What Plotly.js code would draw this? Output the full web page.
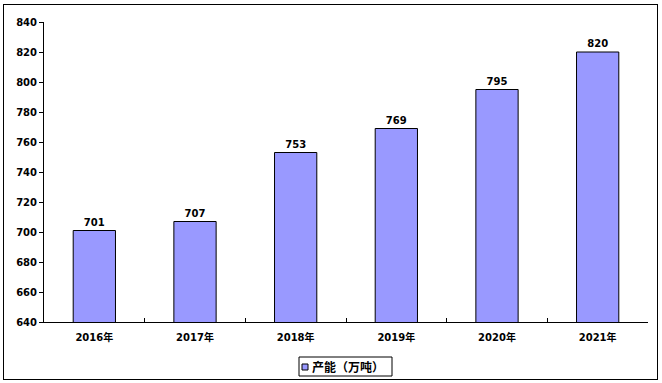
<!DOCTYPE html>
<html>
<head>
<meta charset="utf-8">
<script src="https://cdn.plot.ly/plotly-3.0.1.min.js"></script>
<style>
  html, body { margin: 0; padding: 0; background: #fff; }
  #wrap { position: relative; width: 662px; height: 383px; }
  #chart { position: absolute; left: 0; top: 0; width: 662px; height: 383px; }
  #frame { position: absolute; left: 3px; top: 4px; width: 653px; height: 374px; border: 1px solid #000; pointer-events: none; }
</style>
</head>
<body>
<div id="wrap">
  <div id="chart"></div>
  <div id="frame"></div>
</div>
<script>
const categories = ["2016年", "2017年", "2018年", "2019年", "2020年", "2021年"];
const capacity = [701, 707, 753, 769, 795, 820];
const seriesName = "产能（万吨）";

const fontFam = '"DejaVu Sans", "Noto Sans CJK SC", sans-serif';
const barColor = "#9999FF";

const trace = {
  type: "bar",
  x: categories,
  y: capacity,
  name: seriesName,
  text: capacity.map(String),
  textposition: "outside",
  cliponaxis: false,
  textfont: { family: fontFam, size: 10, color: "#000", weight: "bold" },
  marker: { color: barColor, line: { color: "#000", width: 1 } },
  width: 0.42,
  showlegend: false
};

// plot area in pixels: x 44..648, y 22..322
const px = v => (v - 44) / 604;
const py = v => (322 - v) / 300;

const layout = {
  width: 662,
  height: 383,
  margin: { l: 44, r: 14, t: 22, b: 61, autoexpand: false },
  paper_bgcolor: "#fff",
  plot_bgcolor: "#fff",
  font: { family: fontFam, size: 10, color: "#000", weight: "bold" },
  showlegend: false,
  xaxis: {
    type: "category",
    showline: true, linecolor: "#000", linewidth: 1,
    ticks: "inside", tickson: "boundaries", ticklen: 4, tickcolor: "#000",
    showgrid: false, zeroline: false,
    ticklabelstandoff: 6,
    tickfont: { family: fontFam, size: 10, color: "#000", weight: "bold" }
  },
  yaxis: {
    range: [640, 840], dtick: 20,
    showline: true, linecolor: "#000", linewidth: 1,
    ticks: "outside", ticklen: 4, tickcolor: "#000",
    showgrid: false, zeroline: false,
    tickfont: { family: fontFam, size: 10, color: "#000", weight: "bold" }
  },
  shapes: [
    { type: "rect", xref: "paper", yref: "paper",
      x0: px(299), x1: px(392), y0: py(376), y1: py(357),
      line: { color: "#000", width: 1 }, fillcolor: "#fff", layer: "above" },
    { type: "rect", xref: "paper", yref: "paper",
      x0: px(302), x1: px(308), y0: py(370), y1: py(364),
      line: { color: "#000", width: 1 }, fillcolor: barColor, layer: "above" }
  ],
  annotations: [
    { xref: "paper", yref: "paper", x: px(310), y: py(366.5),
      xanchor: "left", yanchor: "middle", showarrow: false,
      text: seriesName,
      font: { family: '"Noto Sans CJK SC", sans-serif', size: 12, color: "#000", weight: "bold" } }
  ]
};

Plotly.newPlot("chart", [trace], layout, { displayModeBar: false, staticPlot: true });
</script>
</body>
</html>
